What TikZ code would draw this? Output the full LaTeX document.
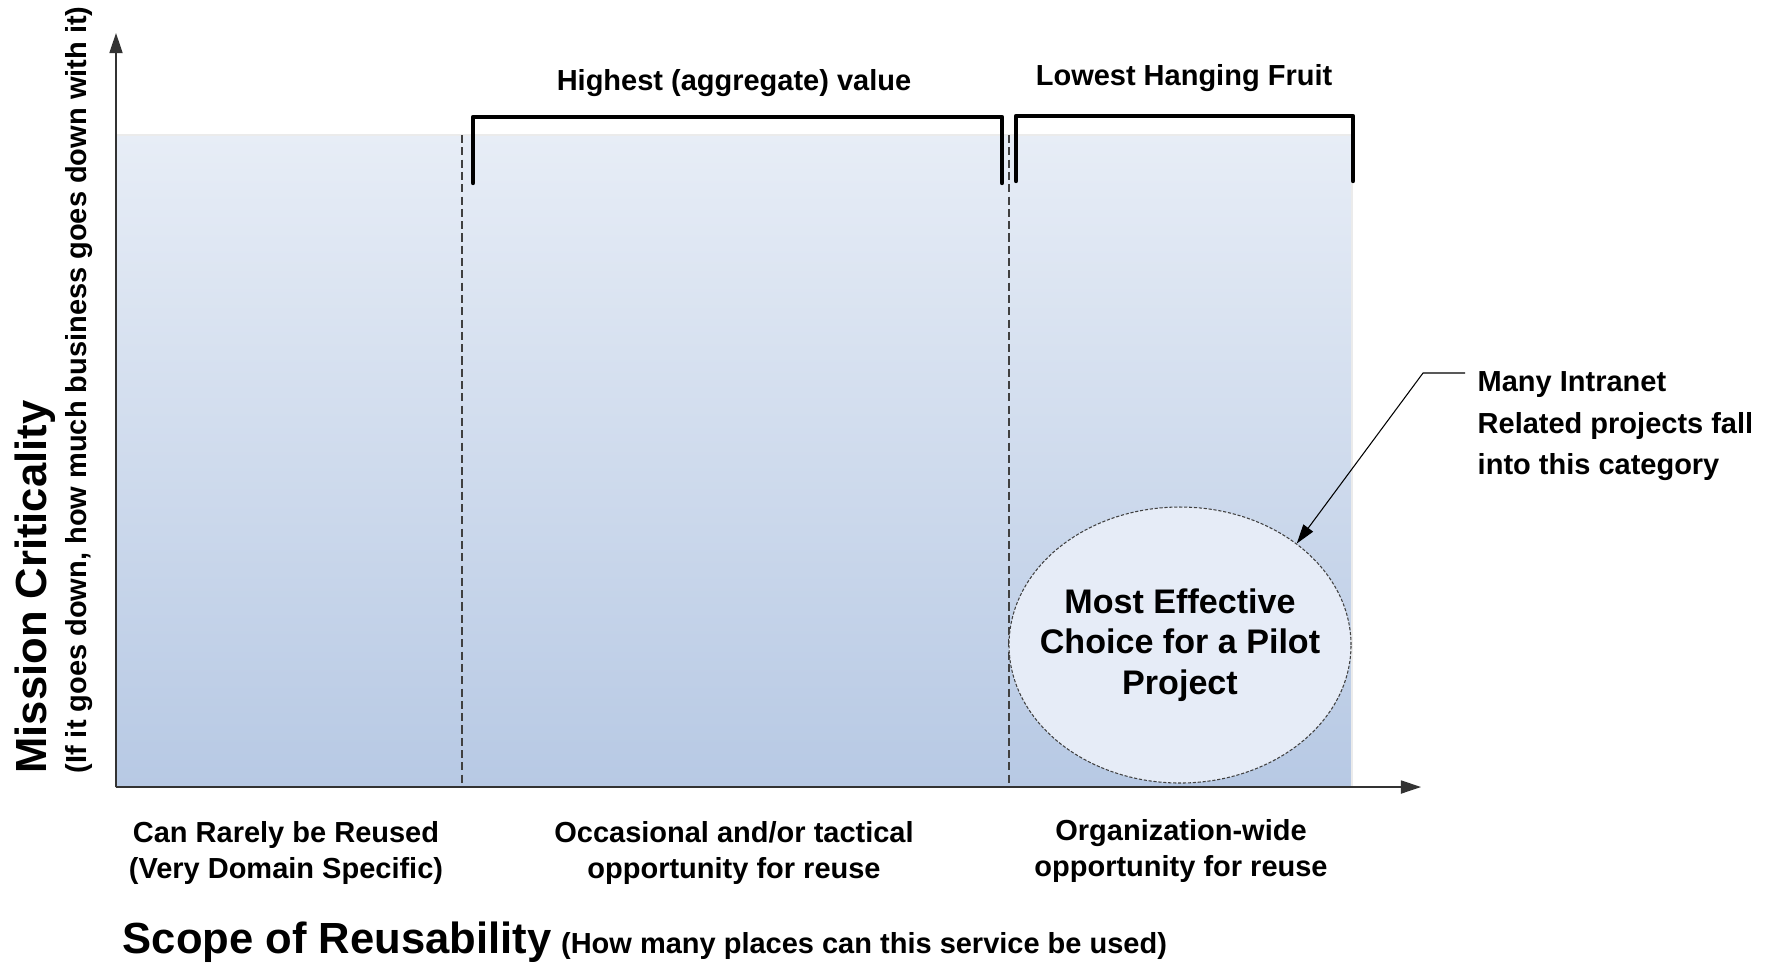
\documentclass[tikz,border=0pt]{standalone}
\usepackage{fontspec}
\setmainfont{Liberation Sans}
\usetikzlibrary{arrows.meta,shapes.geometric}

\definecolor{fondoA}{RGB}{231,237,246}
\definecolor{fondoB}{RGB}{183,201,228}
\definecolor{elipse}{RGB}{230,236,247}

\newcommand{\fuentechica}{\bfseries\fontsize{8.25}{10.3}\selectfont}
\newcommand{\fuentegrande}{\bfseries\fontsize{12.4}{14}\selectfont}

\begin{document}
\begin{tikzpicture}[x=0.1mm,y=-0.1mm,
    eje/.style={draw=black!80,line width=0.5pt,-{Triangle[length=5.7pt,width=3.7pt]}},
    divisor/.style={draw=black!75,line width=0.35pt,dash pattern=on 2.3pt off 1.2pt},
    llave/.style={draw=black,line width=1.25pt,line cap=round,line join=round},
    rotulo/.style={font=\fuentechica,align=center,inner sep=0pt},
    guia/.style={draw=black,line width=0.3pt,-{Triangle[length=5.5pt,width=3.4pt]}}]
    % Fijar el marco de la figura
    \useasboundingbox (0,0) rectangle (1771,965);

    % Sombrear la zona del grafico
    \shade[top color=fondoA,bottom color=fondoB,draw=black!8] (116,135) rectangle (1352,787);

    % Dividir las tres zonas
    \draw[divisor] (462,135) -- (462,787);
    \draw[divisor] (1009,135) -- (1009,787);

    % Dibujar los ejes
    \draw[eje] (116,787) -- (116,33);
    \draw[eje] (116,787) -- (1421,787);

    % Llaves superiores con sus rotulos
    \draw[llave] (473,183) |- (1002,117) -- (1002,183);
    \draw[llave] (1016,181) |- (1353,116) -- (1353,181);
    \node[rotulo,anchor=base] (highest) at (734,90) {Highest (aggregate) value};
    \node[rotulo,anchor=base] (lowest) at (1184,85) {Lowest Hanging Fruit};

    % Elipse del proyecto piloto
    \node[ellipse,draw=black!75,line width=0.3pt,dash pattern=on 0.9pt off 0.5pt,
        fill=elipse,minimum width=34.2mm,minimum height=27.6mm,inner sep=0pt] (pilot) at (1180,645) {};
    \node[align=center,inner sep=0pt,font=\bfseries\fontsize{9.7}{11.5}\selectfont] (pilottxt)
        at (pilot.center) {Most Effective\\Choice for a Pilot\\Project};

    % Nota con su flecha
    \node[rotulo,align=left,anchor=north west,font=\bfseries\fontsize{8.25}{11.8}\selectfont] (intranet)
        at (1477,371) {Many Intranet\\Related projects fall\\into this category};
    \draw[guia] (intranet.north west) ++(-12,2) -- ++(-42,0) -- (pilot.41);

    % Rotulos del eje horizontal
    \node[rotulo,anchor=north] (rare) at (286,821) {Can Rarely be Reused\\(Very Domain Specific)};
    \node[rotulo,anchor=north] (tactical) at (734,821) {Occasional and/or tactical\\opportunity for reuse};
    \node[rotulo,anchor=north] (orgwide) at (1181,819) {Organization-wide\\opportunity for reuse};

    % Titulos de los ejes
    \node[inner sep=0pt,anchor=base west] (scope) at (122,953)
        {{\fuentegrande Scope of Reusability} {\fuentechica (How many places can this service be used)}};
    \node[inner sep=0pt,rotate=90,anchor=base,font=\fuentegrande] (mission) at (46,587) {Mission Criticality};
    \node[inner sep=0pt,rotate=90,anchor=base,font=\fuentechica] (missionsub) at (86,390)
        {(If it goes down, how much business goes down with it)};
\end{tikzpicture}
\end{document}
